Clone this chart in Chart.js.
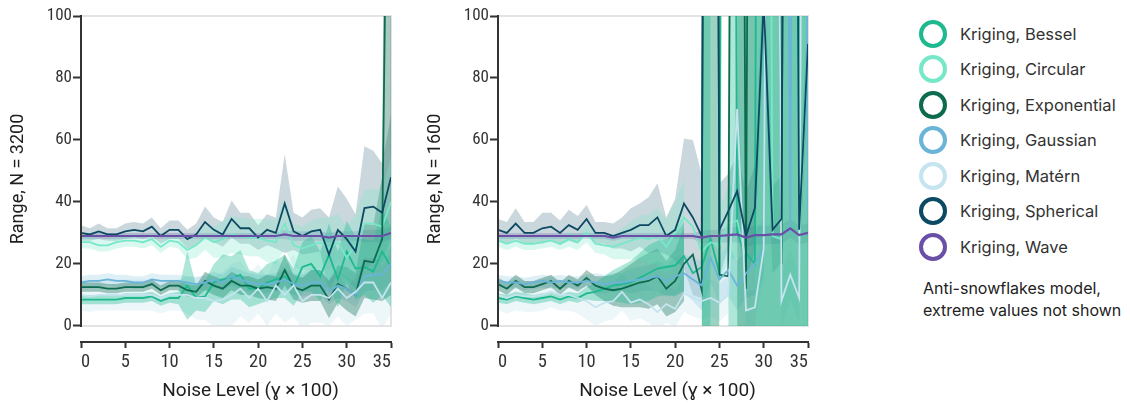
<!DOCTYPE html>
<html>
<head>
<meta charset="utf-8">
<script src="https://cdn.jsdelivr.net/npm/chart.js@4.4.1/dist/chart.umd.min.js"></script>
<style>
  body { margin: 0; background: #fff; width: 1130px; height: 404px; overflow: hidden; position: relative; font-family: Inter, 'Noto Sans', sans-serif; }
  .panel { position: absolute; top: 0; width: 400px; height: 404px; }
  #panel1 { left: 0; }
  #panel2 { left: 417px; }
  .item { position: absolute; left: 919px; height: 29px; display: flex; align-items: center; color: #333; font-size: 16.5px; white-space: nowrap; }
  .ring { width: 20px; height: 20px; border: 4.5px solid; border-radius: 50%; margin-right: 13px; }
  #note { position: absolute; left: 923px; top: 277px; color: #222; font-size: 16px; line-height: 22px; }
</style>
</head>
<body>
<div class="panel" id="panel1"><canvas id="chart1"></canvas></div>
<div class="panel" id="panel2"><canvas id="chart2"></canvas></div>
<div id="legend"></div>
<div id="note">Anti-snowflakes model,<br>extreme values not shown</div>
<script>
// noise levels (x axis)
const noise = [0,1,2,3,4,5,6,7,8,9,10,11,12,13,14,15,16,17,18,19,20,21,22,23,24,25,26,27,28,29,30,31,32,33,34,35];
const xTicks = [0,5,10,15,20,25,30,35];
const yTicks = [0,20,40,60,80,100];
const seriesNames = ['Kriging, Bessel','Kriging, Circular','Kriging, Exponential','Kriging, Gaussian','Kriging, Matérn','Kriging, Spherical','Kriging, Wave'];
const seriesColors = ['#1fb98f','#76e8c8','#0d6b4f','#6ab4d8','#c4e4f0','#0c4a63','#6a4fa6'];
const bandAlpha = [0.36,0.28,0.36,0.22,0.3,0.22,0.22];

// N = 3200 : mean range and band half-width per model
const p1Bessel = [8.5,8.5,8.5,8.5,8.5,9,9,9,9.5,8,9,9,13,9,9.5,14,15,15.5,16.5,12,12,14,15,16,12.5,19,20,16,23,15,24,18.5,19,17.5,24,19];
const p1BesselSd = [1.5,1.5,1.5,1.5,1.5,1.5,1.5,1.5,1.5,1.5,1.5,2,11,4,5,6,8,7,8,6,5,6,6,7,6,8,9,8,10,9,10,10,9,10,14,13];
const p1Circular = [27,27,26,26,27,27.5,27.5,27,28,25.5,27.5,27,24.5,26,28.5,27,28,29.5,29,28.5,28.5,27.5,27,33,26,25,26,27,25,27,22,26,33,33,32,40];
const p1CircularSd = [2,2,2,2,2,2,2,2,2,2,2,2,3,4,4,5,6,6,6,6,6,7,7,8,7,7,8,8,10,9,10,10,11,11,12,15];
const p1Exponential = [12.5,12.5,12.5,12,12,12.5,12.5,12.5,13.5,11.5,13,13,11.5,11,14.5,13,12,14.5,13,13,12,12.5,12,18,12.5,11.5,13,13,8.5,13.5,12,10,21,20.5,28,260];
const p1ExponentialSd = [1.5,1.5,1.5,1.5,1.5,1.5,1.5,1.5,1.5,1.5,1.5,1.5,2,2,3,3,3,3,3,3,3,4,4,5,4,4,5,5,6,6,7,7,12,12,20,250];
const p1Gaussian = [14,14.5,14.5,15,14.5,14.5,14,14,15,14.5,14.5,14.5,14,13.5,14,15,14,16,15,14,13.5,13.5,14,15,13.5,13,14,14,11,13,12,10,16,16.5,16.5,20];
const p1GaussianSd = [2,2,2,2,2,2,2,2,2,2,2,2,2,2,2.5,2.5,2.5,3,3,3,3,3,3,3.5,3.5,3.5,4,4,4,4,4,4,5,5,5,6];
const p1Matern = [10,9.5,10,10,10,10,10,10,10,9,10,10,10,9,9,8,8.5,10,12,9,12,8,13,10,13,8,10,10,9,12,9,11,14,14,9,14];
const p1MaternSd = [5,5,5,5,5,5,5,5,5,5,5,5,6,7,7,8,9,10,9,8,8,8,9,9,10,9,9,9,9,9,9,9,10,10,10,10];
const p1Spherical = [30,29.5,30.5,29.5,29.5,30.5,31,30.5,32,29,31,31,28,29.5,33.5,31,29.5,34.5,31.5,31.5,28.5,31,30,39.5,30.5,29,30.5,31,23,31,28,24,38,38.5,36.5,48];
const p1SphericalSd = [2.5,2,2.5,2,2,2.5,2.5,2.5,3,2.5,3,3,3,3.5,5,4,4,6,5,5,4,5,5,16,6,6,7,7,12,14,13,12,20,18,16,20];
const p1Wave = [29,29,29,29,29,29,29,29,29,29,29,29,29,29,29,29,29,29,29,29,29,29,29,29.5,29,29,29,29,28.5,29,29,29,29,29,29,30];
const p1WaveSd = [1,1,1,1,1,1,1,1,1,1,1,1,1,1,1,1,1,1,1,1,1,1,1,1.5,1.5,1.5,1.5,1.5,1.5,1.5,1.5,1.5,2,2,2,2];

// N = 1600 (null = band not shown at that level)
const p2Bessel = [9,8.5,9.5,9,8.5,9,9.5,8.5,9.5,9,10.5,11,12,13,13.5,14,15.5,17,18.5,19,19.5,22.5,17,19,28,17,700,30,23.5,20,800,600,25,900,30,700];
const p2BesselSd = [1.5,1.5,1.5,1.5,1.5,1.5,1.5,1.5,1.5,1.5,2,3,4,5,6,7,8,9,9,9,10,11,null,2000,2000,null,2000,2000,2000,2000,2000,2000,2000,2000,2000,2000];
const p2Circular = [27.5,26.5,27.5,26.5,26.5,27,27.5,26.5,28,27,30,26.5,26,25.5,26.5,27.5,28.5,28,29,25.5,30,35,32,24,27,26,33,34,22,700,600,29,28,800,28,92];
const p2CircularSd = [2,2,2,2,2,2,2,2,2.5,2.5,3,3,3,4,5,6,7,8,9,9,10,12,null,2000,2000,12,12,12,null,2000,2000,2000,2000,2000,2000,2000];
const p2Exponential = [13.5,12,14.5,12.5,12.5,13.5,14.5,12,14.5,13,15.5,13,12,11.5,12,13,14,14.5,16,12,14.5,20,23,11.5,900,16.5,16,600,12,700,800,500,20,700,600,400];
const p2ExponentialSd = [2,2,2,2,2,2,2,2,2,2,2.5,3,4,5,6,7,8,9,9,9,10,12,null,2000,2000,12,null,2000,2000,2000,2000,2000,2000,2000,2000,2000];
const p2Gaussian = [14.5,14,14,13.5,14,14.5,14,14.5,14,14,14.5,14,13.5,14,14,14.5,15,15.5,16,14.5,16,17,15,13,22,15,18,13,17,20,25,600,500,30,700,35];
const p2GaussianSd = [2,2,2,2,2,2,2,2,2,2,2,3,3,3,3,4,4,4,5,5,6,6,7,8,8,8,8,8,8,10,10,12,12,12,12,12];
const p2Matern = [10,9,10,9.5,9.5,10,11,10,10,9,8,6,7.5,8,11,7.5,8.5,7,4.5,7,5.5,10.5,9,8,9,7.5,10,70,5,6,25,500,8,16.5,9,500];
const p2MaternSd = [5,5,5,5,5,5,5,5,5,5,6,6,6,6,6,6,6,6,6,6,6,6,6,6,6,6,6,15,6,6,8,8,8,8,8,8];
const p2Spherical = [31,30,33,30,30,31.5,32,30,32.5,31,34.5,30,30,29,30,31,32.5,32.5,35,29,31,39.5,35,29,700,31,37,43.5,29,38,105,31,34.5,600,31,91];
const p2SphericalSd = [3.5,3.5,5,3.5,3.5,5,4.5,4,5,4.5,4.5,3.5,3.5,4,5,7,7,9,11,6,10,21,25,20,20,15,12,12,14,14,14,14,14,14,14,14];
const p2Wave = [29,29,29,29,29,29,29,29,29,29,29,29,29,28.5,29,29,29,29,29,29,29,29,29,28.5,29,29,29.3,29.5,28.5,29.3,29.3,29.5,29.5,31.5,29.3,30];
const p2WaveSd = [1,1,1,1,1,1,1,1,1,1,1,1,1,1,1,1,1,1,1,1,1,1,1,2,2,2,2.5,2.5,3,3,3,3,3,3,3,3];

const panel1 = [[p1Bessel,p1BesselSd],[p1Circular,p1CircularSd],[p1Exponential,p1ExponentialSd],[p1Gaussian,p1GaussianSd],[p1Matern,p1MaternSd],[p1Spherical,p1SphericalSd],[p1Wave,p1WaveSd]];
const panel2 = [[p2Bessel,p2BesselSd],[p2Circular,p2CircularSd],[p2Exponential,p2ExponentialSd],[p2Gaussian,p2GaussianSd],[p2Matern,p2MaternSd],[p2Spherical,p2SphericalSd],[p2Wave,p2WaveSd]];

function hexA(hex, a) {
  const n = parseInt(hex.slice(1), 16);
  return `rgba(${n >> 16},${(n >> 8) & 255},${n & 255},${a})`;
}

function buildDatasets(panel) {
  const ds = [];
  panel.forEach(([vals, sd], k) => {
    const col = seriesColors[k];
    const lo = noise.map((x, i) => ({x, y: sd[i] == null ? null : vals[i] - sd[i]}));
    const hi = noise.map((x, i) => ({x, y: sd[i] == null ? null : vals[i] + sd[i]}));
    ds.push({data: lo, borderWidth: 0, borderColor: 'transparent', fill: false, order: 20 + k});
    ds.push({data: hi, borderWidth: 0, borderColor: 'transparent', backgroundColor: hexA(col, bandAlpha[k]), fill: '-1', order: 20 + k});
    ds.push({data: noise.map((x, i) => ({x, y: vals[i]})), borderColor: col, borderWidth: k === 6 ? 2.2 : 1.8, fill: false, order: 7 - k});
  });
  return ds;
}

// light frame around the plot, plot clip, and the dark y axis line
const framePlugin = {
  id: 'frame',
  beforeDatasetsDraw(chart) {
    const {ctx, scales: {x, y}} = chart;
    const l = x.getPixelForValue(0), r = x.getPixelForValue(35);
    const t = y.getPixelForValue(100), b = y.getPixelForValue(0);
    ctx.save();
    ctx.strokeStyle = '#e3e3e3';
    ctx.lineWidth = 2;
    ctx.beginPath();
    ctx.moveTo(l, t); ctx.lineTo(r, t); ctx.lineTo(r, b); ctx.lineTo(l, b);
    ctx.stroke();
    ctx.restore();
    ctx.save();
    ctx.beginPath();
    ctx.rect(l, t, r - l, b - t);
    ctx.clip();
  },
  afterDatasetsDraw(chart) {
    const {ctx, scales: {x, y}} = chart;
    ctx.restore();
    const l = x.getPixelForValue(0);
    ctx.save();
    ctx.strokeStyle = '#333';
    ctx.lineWidth = 2;
    ctx.beginPath();
    ctx.moveTo(l, y.getPixelForValue(100) - 1);
    ctx.lineTo(l, y.getPixelForValue(0) + 1);
    ctx.stroke();
    ctx.restore();
  }
};

const tickFont = "'Liberation Sans Narrow', 'Roboto Condensed', Roboto, sans-serif";

function makeChart(id, panel, yTitle) {
  return new Chart(document.getElementById(id), {
    type: 'line',
    data: {datasets: buildDatasets(panel)},
    options: {
      responsive: true,
      maintainAspectRatio: false,
      animation: false,
      layout: {padding: {top: 16, right: 9, left: 0, bottom: 0}},
      plugins: {legend: {display: false}, tooltip: {enabled: false}},
      elements: {point: {radius: 0}, line: {tension: 0}},
      scales: {
        x: {
          type: 'linear', min: 0, max: 35,
          afterFit: s => { s.height = 62; },
          afterBuildTicks: s => { s.ticks = xTicks.map(v => ({value: v})); },
          border: {color: '#333', width: 2},
          grid: {drawOnChartArea: false, tickLength: 6, tickColor: '#333', tickWidth: 2},
          ticks: {align: 'inner', padding: 3, color: '#333', maxRotation: 0, font: {family: tickFont, size: 18.5}},
          title: {display: true, text: '\u2002\u2002\u2002Noise Level (ɣ × 100)', color: '#1e1e1e', padding: {top: 0, bottom: 1}, font: {family: 'Roboto, sans-serif', size: 19, weight: 'normal'}}
        },
        y: {
          min: -5.2, max: 100,
          afterFit: s => { s.width = 81; },
          afterBuildTicks: s => { s.ticks = yTicks.map(v => ({value: v})); },
          border: {display: false},
          grid: {drawOnChartArea: false, tickLength: 8, tickColor: '#333', tickWidth: 2},
          ticks: {padding: 1, color: '#333', font: {family: tickFont, size: 17}},
          title: {display: true, text: yTitle, color: '#1e1e1e', padding: {top: 8}, font: {family: 'Roboto, sans-serif', size: 18, weight: 'normal'}}
        }
      }
    },
    plugins: [framePlugin]
  });
}

makeChart('chart1', panel1, 'Range, N = 3200');
makeChart('chart2', panel2, 'Range, N = 1600');

// legend
const legend = document.getElementById('legend');
seriesNames.forEach((name, k) => {
  const item = document.createElement('div');
  item.className = 'item';
  item.style.top = (19 + k * 35.5) + 'px';
  item.innerHTML = `<div class="ring" style="border-color:${seriesColors[k]}"></div><span>${name}</span>`;
  legend.appendChild(item);
});
</script>
</body>
</html>
